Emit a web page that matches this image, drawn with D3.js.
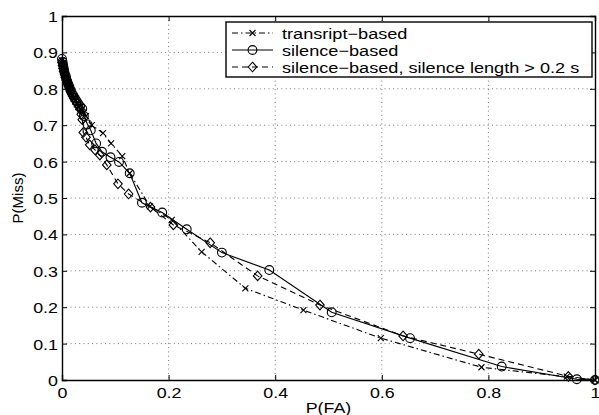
<html>
<head>
<meta charset="UTF-8">
<title>DET</title>
<script src="https://d3js.org/d3.v7.min.js"></script>
<style>
body{margin:0;background:#fff;}
svg{display:block;}
text{font-family:"Liberation Sans",Arial,Helvetica,sans-serif;fill:#000;}
</style>
</head>
<body>
<svg width="599" height="415"></svg>
<script>
// ticks
var xTicks = [0, 0.2, 0.4, 0.6, 0.8, 1];
var yTicks = [0, 0.1, 0.2, 0.3, 0.4, 0.5, 0.6, 0.7, 0.8, 0.9, 1];

// series: [P(FA), P(Miss)]
var transcript = [[0,0.878],[0.001,0.87],[0.002,0.862],[0.003,0.855],[0.004,0.848],[0.005,0.84],[0.006,0.833],
  [0.008,0.825],[0.009,0.818],[0.011,0.81],[0.013,0.802],[0.015,0.795],[0.017,0.787],[0.019,0.78],
  [0.022,0.772],[0.025,0.765],[0.028,0.757],[0.031,0.75],[0.035,0.742],[0.04,0.735],[0.045,0.725],
  [0.056,0.70],[0.077,0.678],[0.092,0.65],[0.113,0.615],[0.127,0.568],[0.165,0.477],[0.206,0.44],
  [0.262,0.352],[0.344,0.252],[0.453,0.192],[0.598,0.115],[0.787,0.035],[0.947,0.009],[1,0]];
var silence = [[0,0.882],[0.001,0.874],[0.002,0.866],[0.003,0.858],[0.004,0.85],[0.005,0.843],[0.007,0.835],
  [0.008,0.828],[0.01,0.82],[0.012,0.812],[0.014,0.805],[0.016,0.797],[0.018,0.79],[0.021,0.782],
  [0.024,0.775],[0.027,0.767],[0.03,0.76],[0.034,0.752],[0.038,0.745],[0.041,0.725],[0.048,0.702],
  [0.054,0.686],[0.064,0.65],[0.075,0.627],[0.091,0.612],[0.107,0.599],[0.127,0.568],[0.150,0.487],
  [0.188,0.46],[0.234,0.414],[0.30,0.35],[0.389,0.302],[0.506,0.186],[0.653,0.115],[0.825,0.037],
  [0.966,0.002],[1,0]];
var silenceLong = [[0,0.872],[0.001,0.864],[0.002,0.856],[0.003,0.848],[0.005,0.84],[0.006,0.832],
  [0.008,0.824],[0.01,0.816],[0.012,0.808],[0.014,0.8],[0.016,0.792],[0.019,0.784],[0.022,0.776],
  [0.025,0.768],[0.028,0.76],[0.031,0.752],[0.034,0.744],[0.036,0.73],[0.038,0.715],[0.04,0.68],
  [0.045,0.667],[0.052,0.646],[0.062,0.632],[0.071,0.618],[0.084,0.591],[0.105,0.539],[0.125,0.511],
  [0.166,0.475],[0.209,0.426],[0.278,0.377],[0.367,0.286],[0.484,0.206],[0.640,0.121],[0.782,0.071],
  [0.95,0.01],[1,0]];

var seriesNames = ["transript\u2212based", "silence\u2212based", "silence\u2212based, silence length > 0.2 s"];
var seriesData = [transcript, silence, silenceLong];
var seriesDash = ["6,3,1.5,3", null, "6,4"];
var seriesMarker = ["x", "circle", "diamond"];

var stretch = 1.19;
var pLeft = 62, pRight = 595, pTop = 16, pBottom = 380;

var svg = d3.select("svg");
var x = d3.scaleLinear().domain([0,1]).range([pLeft,pRight]);
var y = d3.scaleLinear().domain([0,1]).range([pBottom,pTop]);

// grid
var grid = svg.append("g");
grid.selectAll("line.gx").data(xTicks.slice(1,-1)).enter().append("line")
  .attr("x1",function(d){return x(d);}).attr("x2",function(d){return x(d);})
  .attr("y1",pTop).attr("y2",pBottom)
  .attr("stroke","#777").attr("stroke-width",1).attr("stroke-dasharray","1,3.3");
grid.selectAll("line.gy").data(yTicks.slice(1,-1)).enter().append("line")
  .attr("y1",function(d){return y(d);}).attr("y2",function(d){return y(d);})
  .attr("x1",pLeft).attr("x2",pRight)
  .attr("stroke","#777").attr("stroke-width",1).attr("stroke-dasharray","1,3.3");

// axes
var xAxis = svg.append("g").attr("transform","translate(0,"+pBottom+")")
  .call(d3.axisBottom(x).tickValues(xTicks).tickSize(-5).tickFormat(d3.format("")));
xAxis.selectAll("text").attr("y",18.5).attr("dy",0).attr("font-size",15)
  .attr("transform","scale("+stretch+",1)");
svg.append("g").attr("transform","translate(0,"+pTop+")")
  .call(d3.axisTop(x).tickValues(xTicks).tickSize(-5).tickFormat(""));
var yAxis = svg.append("g").attr("transform","translate("+pLeft+",0)")
  .call(d3.axisLeft(y).tickValues(yTicks).tickSize(-5).tickFormat(d3.format("")));
yAxis.selectAll("text").attr("x",-4/stretch).attr("dy","0.36em").attr("font-size",15)
  .attr("transform","scale("+stretch+",1)");
svg.append("g").attr("transform","translate("+pRight+",0)")
  .call(d3.axisRight(y).tickValues(yTicks).tickSize(-5).tickFormat(""));
svg.selectAll(".domain").attr("stroke","#000").attr("stroke-width",1.4);
svg.selectAll(".tick line").attr("stroke","#000");

// axis labels
svg.append("text").attr("transform","translate("+((pLeft+pRight)/2)+",413) scale("+stretch+",1)")
  .attr("text-anchor","middle").attr("font-size",15).text("P(FA)");
svg.append("text").attr("transform","translate(23,"+((pTop+pBottom)/2)+") rotate(-90)")
  .attr("text-anchor","middle").attr("font-size",15).text("P(Miss)");

function drawMarker(g, type){
  if(type=="circle"){
    g.append("circle").attr("r",4.4).attr("fill","none").attr("stroke","#000").attr("stroke-width",1.1);
  } else if(type=="diamond"){
    g.append("path").attr("d","M0,-4.8L4.3,0L0,4.8L-4.3,0Z").attr("fill","none").attr("stroke","#000").attr("stroke-width",1.1);
  } else {
    g.append("path").attr("d","M-3,-3L3,3M-3,3L3,-3").attr("fill","none").attr("stroke","#000").attr("stroke-width",1.1);
  }
}

var line = d3.line().x(function(d){return x(d[0]);}).y(function(d){return y(d[1]);});

seriesData.forEach(function(data,i){
  var p = svg.append("path").datum(data).attr("d",line)
    .attr("fill","none").attr("stroke","#000").attr("stroke-width",1.1);
  if(seriesDash[i]) p.attr("stroke-dasharray",seriesDash[i]);
  svg.append("g").selectAll("g").data(data).enter().append("g")
    .attr("transform",function(d){return "translate("+x(d[0])+","+y(d[1])+")";})
    .each(function(){ drawMarker(d3.select(this), seriesMarker[i]); });
});

// legend
var legend = svg.append("g");
legend.append("rect").attr("x",226).attr("y",22).attr("width",366).attr("height",55)
  .attr("fill","#fff").attr("stroke","#000").attr("stroke-width",1.4);
var rows = legend.selectAll("g.row").data(seriesNames).enter().append("g")
  .attr("transform",function(d,i){return "translate(0,"+(33+i*17)+")";});
rows.append("line").attr("x1",232).attr("x2",273).attr("y1",0).attr("y2",0)
  .attr("stroke","#000").attr("stroke-width",1.1)
  .attr("stroke-dasharray",function(d,i){return seriesDash[i];});
rows.each(function(d,i){
  var g = d3.select(this).append("g").attr("transform","translate(252.5,0)");
  drawMarker(g, seriesMarker[i]);
});
rows.append("text").attr("transform","translate(282,5.5) scale(1.21,1)")
  .attr("font-size",15).text(function(d){return d;});
</script>
</body>
</html>
